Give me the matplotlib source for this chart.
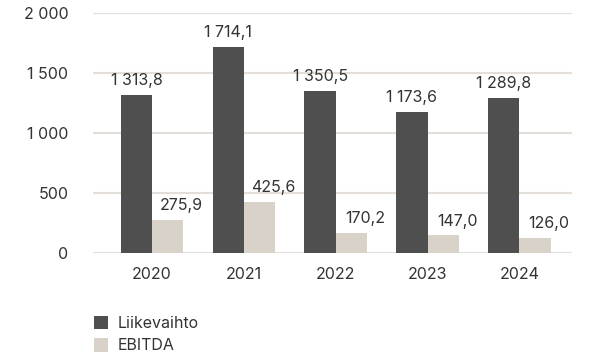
import matplotlib
matplotlib.use("Agg")
import matplotlib.pyplot as plt
import numpy as np

plt.rcParams['font.family'] = ['Inter', 'DejaVu Sans']

years = ["2020", "2021", "2022", "2023", "2024"]
liikevaihto = [1313.8, 1714.1, 1350.5, 1173.6, 1289.8]
ebitda = [275.9, 425.6, 170.2, 147.0, 126.0]
yticks = [0, 500, 1000, 1500, 2000]
ytick_labels = ["0", "500", "1 000", "1 500", "2 000"]

def fmt(v):
    s = f"{v:,.1f}".replace(",", " ").replace(".", ",")
    return s

dark = "#4f4f4f"
light = "#d8d2c9"
grid = "#e3dfd8"
text = "#333333"
fs = 11.5

fig = plt.figure(figsize=(5.9, 3.56), dpi=100)
ax = fig.add_axes([0.158, 0.289, 0.811, 0.6745])

x = np.arange(len(years))
w = 0.34
b1 = ax.bar(x - w/2, liikevaihto, w, color=dark, label="Liikevaihto", zorder=3)
b2 = ax.bar(x + w/2, ebitda, w, color=light, label="EBITDA", zorder=3)

for xi, v in zip(x, liikevaihto):
    ax.annotate(fmt(v), (xi - w/2, v), xytext=(0, 5), textcoords="offset points",
                ha="center", va="bottom", fontsize=fs, color=text)
for xi, v in zip(x, ebitda):
    ax.annotate(fmt(v), (xi + w/2, v), xytext=(10, 5), textcoords="offset points",
                ha="center", va="bottom", fontsize=fs, color=text)

ax.set_ylim(0, 2000)
ax.set_xlim(-0.64, 4.57)
ax.set_yticks(yticks)
ax.set_yticklabels(ytick_labels)
ax.set_xticks(x)
ax.set_xticklabels(years)
ax.tick_params(axis='both', length=0, labelsize=fs, colors=text)
ax.tick_params(axis='y', pad=18)
ax.tick_params(axis='x', pad=10)
ax.yaxis.grid(True, color=grid, linewidth=1.5, zorder=0)
ax.set_axisbelow(True)
for s in ax.spines.values():
    s.set_visible(False)

fig.legend(handles=[b1, b2], loc="upper left", bbox_to_anchor=(0.145, 0.135),
           frameon=False, fontsize=fs, handlelength=0.9, handleheight=0.9,
           handletextpad=0.6, labelspacing=0.45, borderpad=0, labelcolor=text)

fig.savefig("out.png", dpi=100)
